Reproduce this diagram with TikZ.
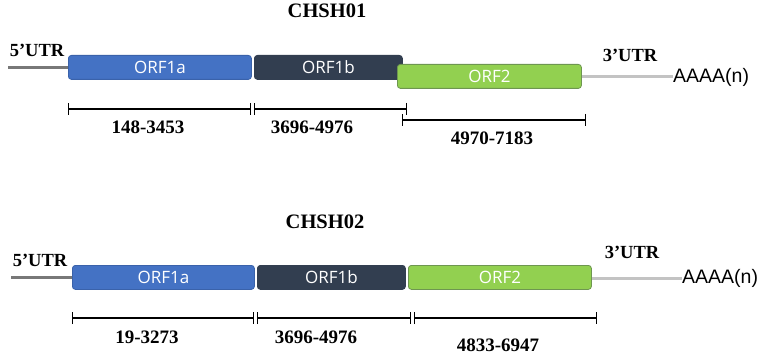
\documentclass[tikz,border=0pt]{standalone}
\usepackage{fontspec}
\setmainfont{Liberation Serif}
\newfontfamily\orffont{Open Sans}
\newfontfamily\arialfont{Liberation Sans}
\usetikzlibrary{arrows.meta}
\definecolor{orfblue}{RGB}{68,114,196}
\definecolor{orfblueb}{RGB}{58,98,170}
\definecolor{orfdark}{RGB}{50,62,80}
\definecolor{orfgreen}{RGB}{146,208,80}
\definecolor{orfgreenb}{RGB}{110,150,80}
\definecolor{utrdark}{RGB}{120,120,120}
\definecolor{utrlight}{RGB}{195,195,195}
\tikzset{
  orfbox/.style={rounded corners=3pt, line width=0.8pt, minimum height=24pt,
    inner sep=0pt, anchor=north west, text=white, font=\orffont\fontsize{17}{17}\selectfont},
  title/.style={font=\bfseries\fontsize{20.5}{20.5}\selectfont},
  utrlabel/.style={font=\bfseries\fontsize{18.5}{18.5}\selectfont},
  rangelabel/.style={font=\bfseries\fontsize{19}{19}\selectfont},
  polya/.style={font=\arialfont\fontsize{19.5}{19.5}\selectfont, anchor=west, inner sep=0pt},
  utrfive/.style={draw=utrdark, line width=3pt},
  utrthree/.style={draw=utrlight, line width=3pt},
  dimline/.style={line width=1.4pt, {Bar[width=12pt,line width=1.4pt]}-{Bar[width=12pt,line width=1.4pt]}},
}
\begin{document}
\begin{tikzpicture}[x=1pt,y=-1pt]
\useasboundingbox (0,0) rectangle (765,355);
% ---------- CHSH01 ----------
\node[title] (t1) at (327,11) {CHSH01};
\node[utrlabel] (u5a) at (37,50) {5’UTR};
\node[utrlabel] (u3a) at (630,55) {3’UTR};
\coordinate (s1) at (8,68);
\node[orfbox, fill=orfblue, draw=orfblueb, minimum width=183pt] (a1) at (68,55) {ORF1a};
\node[orfbox, fill=orfdark, draw=orfdark, minimum width=148pt] (b1) at (254,55) {ORF1b};
\node[orfbox, fill=orfgreen, draw=orfgreenb, minimum width=184pt] (c1) at (397,64) {ORF2};
\node[polya] (p1) at (673,77) {AAAA(n)};
\draw[utrfive] (s1) -- (a1.west |- s1);
\draw[utrthree] (c1.east |- p1.west) -- (p1.west);
\coordinate (d1a) at (68,109);
\coordinate (d1b) at (251,109);
\coordinate (d1c) at (254,109);
\coordinate (d1d) at (407,109);
\coordinate (d1e) at (402,120);
\coordinate (d1f) at (586,120);
\draw[dimline] (d1a) -- (d1b);
\draw[dimline] (d1c) -- (d1d);
\draw[dimline] (d1e) -- (d1f);
\node[rangelabel] (r1a) at (148,127) {148-3453};
\node[rangelabel] (r1b) at (312,127) {3696-4976};
\node[rangelabel] (r1c) at (492,138) {4970-7183};
% ---------- CHSH02 ----------
\node[title] (t2) at (325,222) {CHSH02};
\node[utrlabel] (u5b) at (40,260) {5’UTR};
\node[utrlabel] (u3b) at (632,252) {3’UTR};
\coordinate (s2) at (11,277);
\node[orfbox, fill=orfblue, draw=orfblueb, minimum width=182pt] (a2) at (72,265) {ORF1a};
\node[orfbox, fill=orfdark, draw=orfdark, minimum width=148pt] (b2) at (257,265) {ORF1b};
\node[orfbox, fill=orfgreen, draw=orfgreenb, minimum width=183pt] (c2) at (408,265) {ORF2};
\node[polya] (p2) at (682,278) {AAAA(n)};
\draw[utrfive] (s2) -- (a2.west |- s2);
\draw[utrthree] (c2.east |- p2.west) -- (p2.west);
\coordinate (d2a) at (72,318);
\coordinate (d2b) at (254,318);
\coordinate (d2c) at (257,318);
\coordinate (d2d) at (411,318);
\coordinate (d2e) at (414,318);
\coordinate (d2f) at (597,318);
\draw[dimline] (d2a) -- (d2b);
\draw[dimline] (d2c) -- (d2d);
\draw[dimline] (d2e) -- (d2f);
\node[rangelabel] (r2a) at (147,337) {19-3273};
\node[rangelabel] (r2b) at (316,337) {3696-4976};
\node[rangelabel] (r2c) at (498,345) {4833-6947};
\end{tikzpicture}
\end{document}
